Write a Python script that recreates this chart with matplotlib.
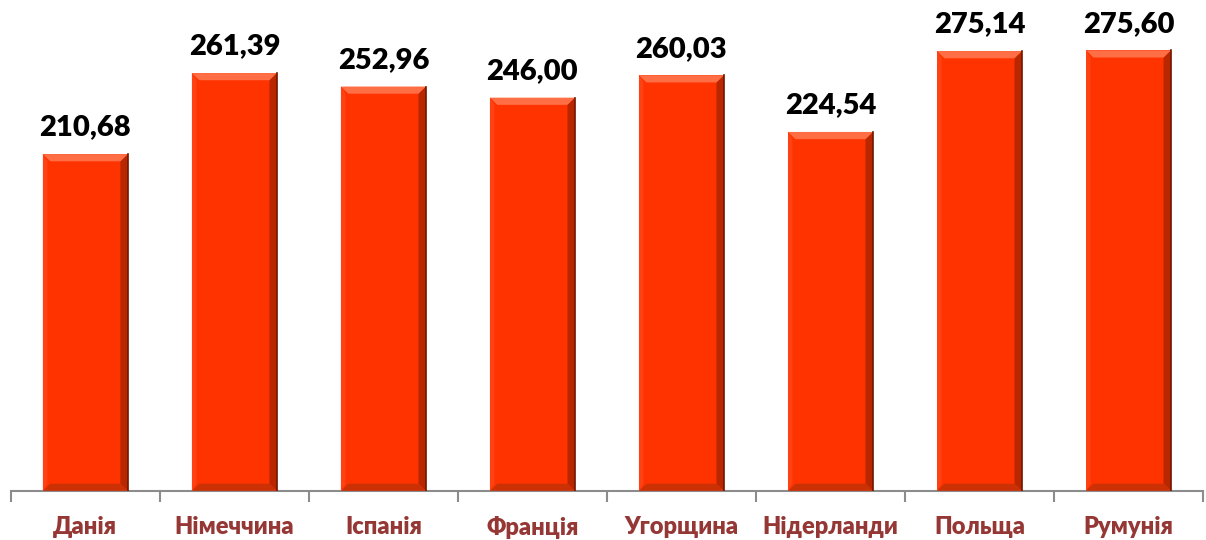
import matplotlib
matplotlib.use('Agg')
import matplotlib.pyplot as plt
from matplotlib.patches import Polygon
import numpy as np

# data
countries = ['Данія', 'Німеччина', 'Іспанія', 'Франція', 'Угорщина', 'Нідерланди', 'Польща', 'Румунія']
values = [210.68, 261.39, 252.96, 246.00, 260.03, 224.54, 275.14, 275.60]
value_labels = ['210,68', '261,39', '252,96', '246,00', '260,03', '224,54', '275,14', '275,60']

fonts = ['Lato', 'DejaVu Sans']
bar_color = '#FF3300'
bar_width = 0.57

fig = plt.figure(figsize=(12.06, 5.4), dpi=100)
ax = fig.add_axes([0.009, 0.091, 0.9885, 0.888])

x = np.arange(len(countries))
bars = ax.bar(x, values, width=bar_width, color=bar_color, zorder=2)

# bevel look: light top, dark right and bottom, slightly light left
bx = 0.05    # bevel width in data x
by = 4.5     # bevel height in data y
for b in bars:
    x0, x1 = b.get_x(), b.get_x() + b.get_width()
    y1 = b.get_height()
    y0 = 0
    top = [(x0, y1), (x1, y1), (x1 - bx, y1 - by), (x0 + bx, y1 - by)]
    bot = [(x0, y0), (x1, y0), (x1 - bx, y0 + by), (x0 + bx, y0 + by)]
    left = [(x0, y0), (x0, y1), (x0 + bx * 0.6, y1 - by), (x0 + bx * 0.6, y0 + by)]
    right = [(x1, y0), (x1, y1), (x1 - bx, y1 - by), (x1 - bx, y0 + by)]
    ax.add_patch(Polygon(left, closed=True, color='#FF4214', lw=0, zorder=3))
    ax.add_patch(Polygon(right, closed=True, color='#B82700', lw=0, zorder=3))
    ax.add_patch(Polygon(bot, closed=True, color='#CC3005', lw=0, zorder=3))
    ax.add_patch(Polygon(top, closed=True, color='#FF6E45', lw=0, zorder=3))
    # soft dark edge on the right
    ax.plot([x1, x1], [y0, y1], color='#701600', lw=1.2, zorder=4)

for xi, v, lab in zip(x, values, value_labels):
    ax.text(xi, v + 8.5, lab, ha='center', va='bottom', fontsize=21,
            fontweight='heavy', family=fonts, color='black')

ax.set_xlim(-0.5, len(countries) - 0.5)
ax.set_ylim(0, 300)

for s in ['top', 'right', 'left']:
    ax.spines[s].set_visible(False)
ax.spines['bottom'].set_color('#8C8C8C')
ax.spines['bottom'].set_linewidth(1.5)
ax.set_yticks([])

ax.set_xticks(np.arange(len(countries) + 1) - 0.5, minor=False)
ax.set_xticklabels([])
ax.tick_params(axis='x', which='major', length=8, width=1.5, color='#8C8C8C')
ax.set_xticks(x, minor=True)
ax.set_xticklabels(countries, minor=True, fontsize=17, fontweight='heavy',
                   family=fonts, color='#953735')
ax.tick_params(axis='x', which='minor', length=0, pad=18)

fig.savefig('out.png', dpi=100)
